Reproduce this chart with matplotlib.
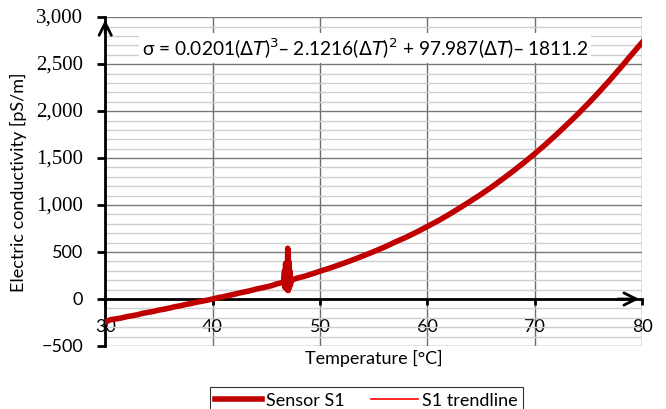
import numpy as np
import matplotlib
matplotlib.use("Agg")
import matplotlib.pyplot as plt
from matplotlib.ticker import MultipleLocator

# ---- data ----
temp_c = [30.0, 30.5, 31.0, 31.5, 32.0, 32.5, 33.0, 33.5, 34.0, 34.5, 35.0, 35.5,
          36.0, 36.5, 37.0, 37.5, 38.0, 38.5, 39.0, 39.5, 40.0, 40.5, 41.0, 41.5,
          42.0, 42.5, 43.0, 43.5, 44.0, 44.5, 45.0, 45.5, 46.0, 46.4, 46.6, 46.7,
          46.75, 46.8, 46.85, 46.9, 46.95, 47.0, 47.05, 47.1, 47.15, 47.2, 47.25,
          47.3, 47.4, 47.6, 48.0, 48.5, 49.0, 49.5, 50.0, 51.0, 52.0, 53.0, 54.0,
          55.0, 56.0, 57.0, 58.0, 59.0, 60.0, 61.0, 62.0, 63.0, 64.0, 65.0, 66.0,
          67.0, 68.0, 69.0, 70.0, 71.0, 72.0, 73.0, 74.0, 75.0, 76.0, 77.0, 78.0,
          79.0, 80.0]
sensor_s1 = [-245, -220, -212, -202, -188, -178, -168, -152, -142, -132, -118, -108,
             -96, -82, -72, -58, -48, -34, -24, -12, 0, 14, 24, 38,
             50, 64, 76, 88, 104, 116, 128, 142, 162, 172, 178, 300,
             120, 380, 160, 250, 100, 540, 90, 400, 120, 300, 150,
             200, 200, 212, 226, 240, 258, 276, 296, 332, 372, 414, 458,
             504, 552, 606, 656, 712, 772, 832, 898, 968, 1040, 1114, 1192,
             1276, 1362, 1452, 1546, 1644, 1748, 1856, 1966, 2082, 2204, 2330, 2462,
             2598, 2730]
trend_coeffs = [0.0201, -2.1216, 97.987, -1811.2]  # from the chart equation

x_ticks = [30, 40, 50, 60, 70, 80]
y_ticks = [-500, 0, 500, 1000, 1500, 2000, 2500, 3000]
y_tick_labels = ["\u2212500", "0", "500", "1,000", "1,500", "2,000", "2,500", "3,000"]

sans = ["Lato", "DejaVu Sans"]
serif = ["Liberation Serif", "DejaVu Serif"]
red = "#c00000"

fig = plt.figure(figsize=(6.66, 4.10), dpi=100)
ax = fig.add_axes([0.158, 0.1537, 0.806, 0.802])

ax.set_xlim(30, 80)
ax.set_ylim(-500, 3000)

# grid
ax.yaxis.set_minor_locator(MultipleLocator(100))
ax.set_xticks(x_ticks)
ax.set_yticks(y_ticks)
ax.grid(which="minor", axis="y", color="#cfcfcf", lw=1.0)
ax.grid(which="major", axis="y", color="#7a7a7a", lw=1.0)
ax.grid(which="major", axis="x", color="#6f6f6f", lw=1.0)
ax.set_axisbelow(True)

# trendline + data
tt = np.linspace(30, 80, 300)
ax.plot(tt, np.polyval(trend_coeffs, tt), color="#ff0000", lw=1.2, zorder=3,
        label="S1 trendline")
ax.plot(temp_c, sensor_s1, color=red, lw=4.0, zorder=4, solid_joinstyle="round",
        label="Sensor S1")

# spines
for s in ["top", "right"]:
    ax.spines[s].set_visible(False)
ax.spines["bottom"].set_position(("data", 0))
ax.spines["bottom"].set_linewidth(2)
ax.spines["left"].set_linewidth(2)
ax.spines["bottom"].set_zorder(2)

# arrows
ax.annotate("", xy=(80, 0), xytext=(77.5, 0),
            arrowprops=dict(arrowstyle="->", lw=2, color="black", mutation_scale=22),
            zorder=5)
ax.annotate("", xy=(30, 3000), xytext=(30, 2800),
            arrowprops=dict(arrowstyle="->", lw=2, color="black", mutation_scale=22),
            zorder=5, annotation_clip=False)

ax.tick_params(axis="x", which="major", direction="out", length=4, width=2,
               pad=10, labelsize=13)
ax.tick_params(axis="y", which="major", direction="out", length=6, width=2,
               labelleft=False)
ax.tick_params(axis="y", which="minor", length=0)
for lab in ax.get_xticklabels():
    lab.set_fontfamily(sans)

# y tick labels (mixed fonts, as in the reference)
ytrans = ax.get_yaxis_transform()
for v, txt in zip(y_ticks, y_tick_labels):
    if v >= 1000:
        ax.text(-0.041, v, txt, transform=ytrans, ha="right", va="center",
                family=serif, fontsize=15)
    else:
        ax.text(-0.041, v, txt, transform=ytrans, ha="right", va="center",
                family=sans, fontsize=13)

ax.set_xlabel("Temperature [\u00b0C]", family=sans, fontsize=13)
ax.xaxis.set_label_coords(0.5, -0.008)
ax.set_ylabel("Electric conductivity [pS/m]", family=sans, fontsize=13)
ax.yaxis.set_label_coords(-0.145, 0.5)

ax.text(54.2, 2670,
        r"σ = 0.0201($\mathit{\Delta T}$)$^{3}$– 2.1216($\mathit{\Delta T}$)$^{2}$"
        r" + 97.987($\mathit{\Delta T}$)– 1811.2",
        ha="center", va="center", fontsize=13.8, family=sans, zorder=6,
        bbox=dict(facecolor="white", edgecolor="none", pad=2))

handles, labels = ax.get_legend_handles_labels()
leg = fig.legend(handles[::-1], labels[::-1], loc="upper center",
                 bbox_to_anchor=(0.55, 0.054), ncol=2, frameon=True,
                 fancybox=False, edgecolor="black", prop={"family": sans, "size": 13},
                 handlelength=2.6, handletextpad=0.2, columnspacing=1.5,
                 borderpad=0.3, borderaxespad=0)
leg.get_frame().set_linewidth(0.8)

fig.savefig("out.png", dpi=100)
